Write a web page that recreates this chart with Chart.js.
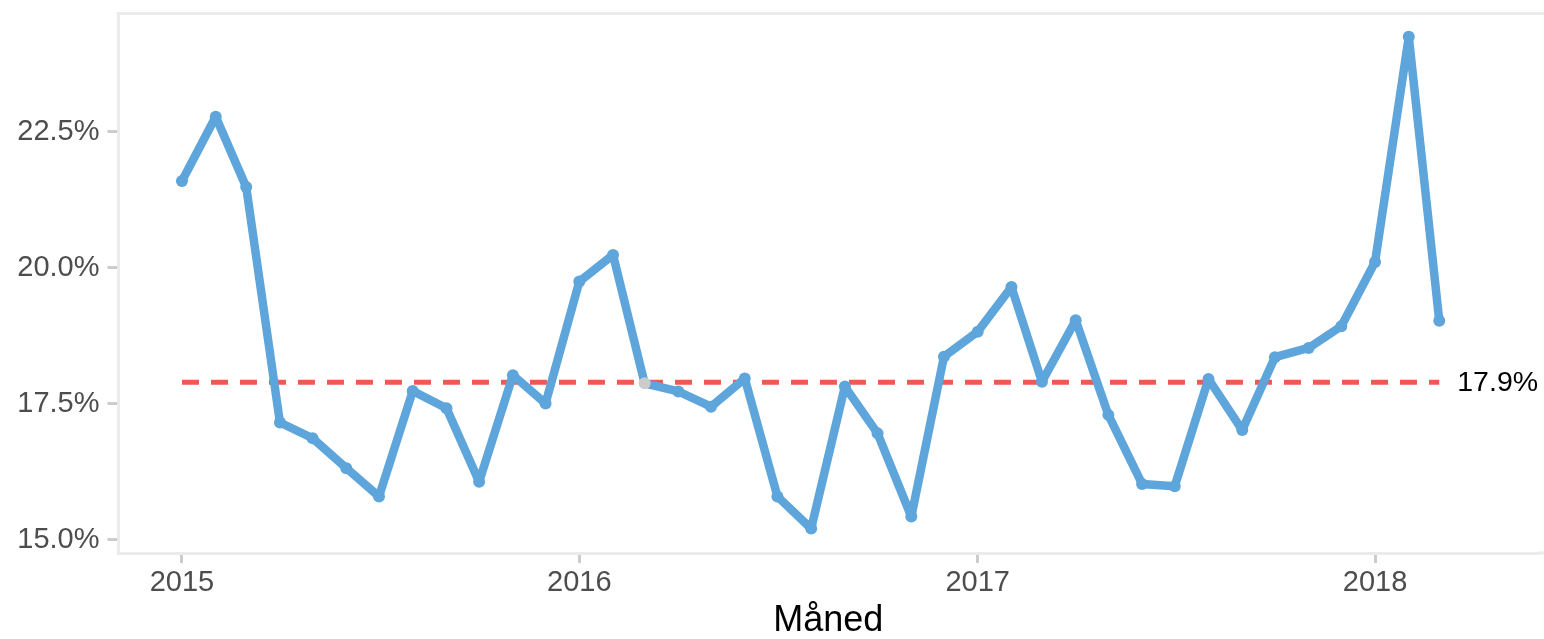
<!DOCTYPE html>
<html>
<head>
<meta charset="utf-8">
<script src="https://cdn.jsdelivr.net/npm/chart.js@4/dist/chart.umd.min.js"></script>
<style>
  html, body { margin: 0; padding: 0; background: #fff; }
  canvas { display: block; }
</style>
</head>
<body>
<canvas id="chart" width="1544" height="639"></canvas>
<script>
// måneder (første dag i hver måned)
const months = [
  '2015-01','2015-02','2015-03','2015-04','2015-05','2015-06','2015-07','2015-08','2015-09','2015-10','2015-11','2015-12',
  '2016-01','2016-02','2016-03','2016-04','2016-05','2016-06','2016-07','2016-08','2016-09','2016-10','2016-11','2016-12',
  '2017-01','2017-02','2017-03','2017-04','2017-05','2017-06','2017-07','2017-08','2017-09','2017-10','2017-11','2017-12',
  '2018-01','2018-02','2018-03'
]
// andel i prosent
const values = [
  21.60, 22.78, 21.49, 17.16, 16.87, 16.32, 15.80, 17.74, 17.42, 16.07, 18.03, 17.51,
  19.75, 20.24, 17.88, 17.73, 17.45, 17.97, 15.80, 15.21, 17.82, 16.96, 15.43, 18.37,
  18.83, 19.65, 17.91, 19.04, 17.30, 16.03, 15.99, 17.96, 17.02, 18.36, 18.53, 18.93,
  20.11, 24.25, 19.03
]
const meanValue = 17.9
const highlightMonth = '2016-03'
const yearTicks = [2015, 2016, 2017, 2018]
const yTicks = [15, 17.5, 20, 22.5]

const FONT = "'Liberation Sans', Arial, sans-serif"
const BLUE = '#5DA5DA'
const RED = '#F15854'

const dayOf = (y, m) => Date.UTC(y, m - 1, 1) / 86400000
const monthDay = (s) => {
  const [y, m] = s.split('-').map(Number)
  return dayOf(y, m)
}

const points = months.map((m, i) => ({ x: monthDay(m), y: values[i] }))
const pointColors = months.map(m => m === highlightMonth ? '#cccccc' : BLUE)
const first = points[0].x
const last = points[points.length - 1].x

// panelramme øverst + etikett for snittlinjen
const extras = {
  id: 'extras',
  afterDraw(chart) {
    const { ctx, chartArea, scales } = chart
    ctx.save()
    ctx.strokeStyle = '#ebebeb'
    ctx.lineWidth = 3
    ctx.beginPath()
    ctx.moveTo(chartArea.left - 1.5, chartArea.top)
    ctx.lineTo(chart.width, chartArea.top)
    ctx.moveTo(chartArea.right, chartArea.bottom)
    ctx.lineTo(chart.width, chartArea.bottom)
    ctx.stroke()

    ctx.fillStyle = '#000'
    ctx.font = '28.5px ' + FONT
    ctx.textAlign = 'left'
    ctx.textBaseline = 'middle'
    ctx.fillText(meanValue.toFixed(1) + '%', scales.x.getPixelForValue(last) + 18, scales.y.getPixelForValue(meanValue) + 1)
    ctx.restore()
  }
}

new Chart(document.getElementById('chart'), {
  type: 'line',
  data: {
    datasets: [
      {
        data: points,
        borderColor: BLUE,
        borderWidth: 8.5,
        borderJoinStyle: 'round',
        borderCapStyle: 'round',
        pointRadius: 6,
        pointBackgroundColor: pointColors,
        pointBorderColor: pointColors,
        pointBorderWidth: 0,
        tension: 0,
        order: 0
      },
      {
        data: [{ x: first, y: meanValue }, { x: last, y: meanValue }],
        borderColor: RED,
        borderWidth: 5,
        borderDash: [17, 12],
        pointRadius: 0,
        order: 1
      }
    ]
  },
  options: {
    responsive: false,
    animation: false,
    devicePixelRatio: 1,
    layout: { padding: { top: 13.5, left: 0, right: 0, bottom: 0 } },
    plugins: { legend: { display: false }, tooltip: { enabled: false } },
    scales: {
      x: {
        type: 'linear',
        min: dayOf(2015, 1) - 58.3,
        max: dayOf(2015, 1) + 1245.7,
        afterBuildTicks: (scale) => { scale.ticks = yearTicks.map(y => ({ value: dayOf(y, 1) })) },
        afterFit: (scale) => {
          scale.height = 86
          scale.paddingLeft = 0
          scale.paddingRight = 0
        },
        ticks: {
          autoSkip: false,
          maxRotation: 0,
          padding: 3,
          color: '#4d4d4d',
          font: { family: FONT, size: 29 },
          callback: (v) => String(new Date(v * 86400000).getUTCFullYear())
        },
        grid: { drawOnChartArea: false, drawTicks: true, tickLength: 10, tickColor: '#cccccc', tickWidth: 3 },
        border: { display: true, color: '#ebebeb', width: 3 },
        title: {
          display: true,
          text: 'Måned',
          color: '#000',
          padding: 0,
          font: { family: FONT, size: 36, lineHeight: 1 }
        }
      },
      y: {
        min: 14.761,
        max: 24.678,
        afterBuildTicks: (scale) => { scale.ticks = yTicks.map(v => ({ value: v })) },
        afterFit: (scale) => {
          scale.width = 118.5
          scale.paddingTop = 0
          scale.paddingBottom = 0
        },
        ticks: {
          padding: 8,
          color: '#4d4d4d',
          font: { family: FONT, size: 29 },
          callback: (v) => v.toFixed(1) + '%'
        },
        grid: { drawOnChartArea: false, drawTicks: true, tickLength: 11, tickColor: '#cccccc', tickWidth: 3 },
        border: { display: true, color: '#ebebeb', width: 3 }
      }
    }
  },
  plugins: [extras]
})
</script>
</body>
</html>
